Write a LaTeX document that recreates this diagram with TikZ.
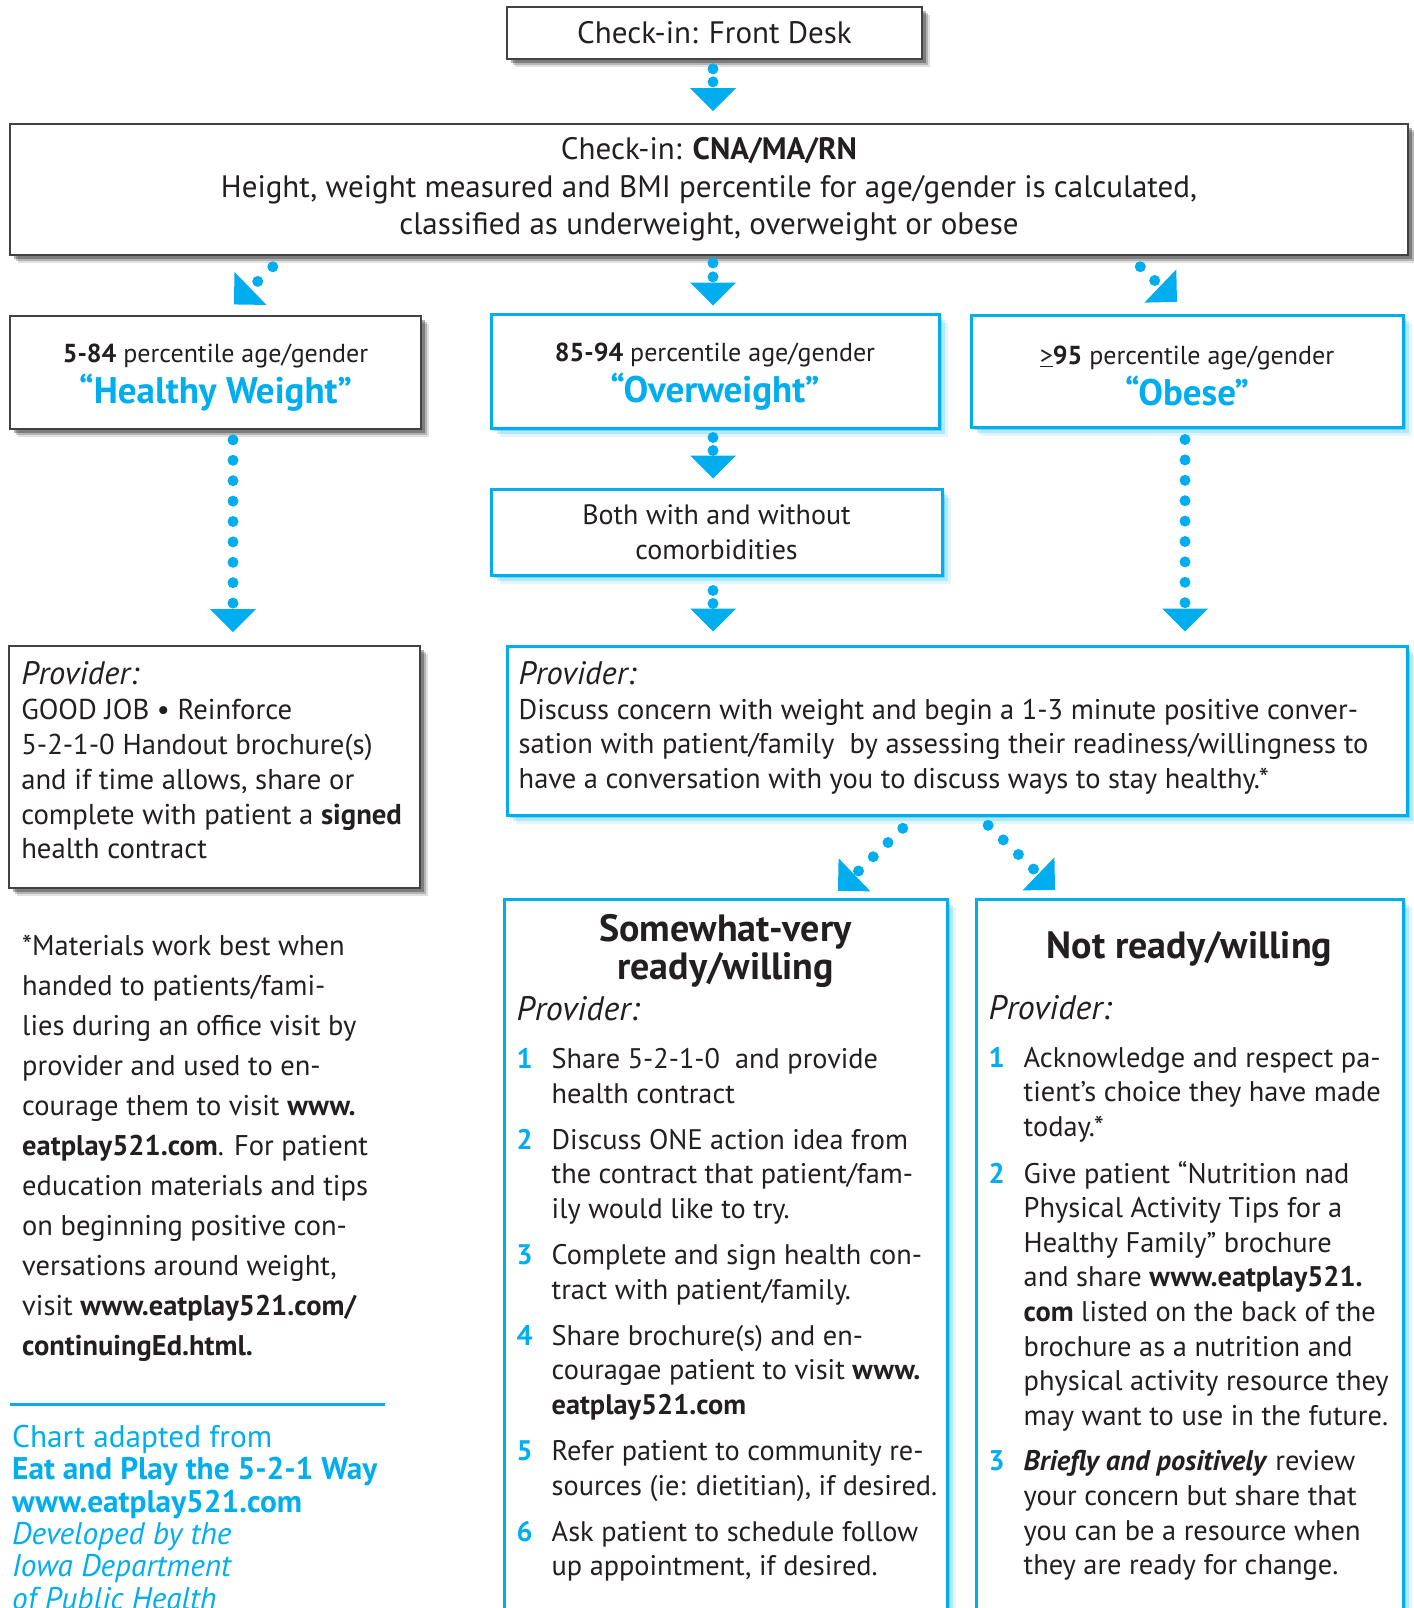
\documentclass[tikz,border=0pt]{standalone}
\usepackage{fontspec}
\setmainfont{PT Sans}
\usetikzlibrary{arrows.meta}
\usetikzlibrary{shadows}
\usetikzlibrary{positioning}
\definecolor{ebblue}{HTML}{00AEEF}
\definecolor{ink}{HTML}{231F20}
\tikzset{
    greybox/.style={
        rectangle,
        draw=ink!85,
        line width=1.8pt,
        fill=white,
        drop shadow={shadow xshift=8pt, shadow yshift=-8pt, opacity=.12, fill=black},
        drop shadow={shadow xshift=6pt, shadow yshift=-6pt, opacity=.2, fill=black},
        drop shadow={shadow xshift=4pt, shadow yshift=-4pt, opacity=.3, fill=black}
    },
    bluebox/.style={
        rectangle,
        draw=ebblue,
        line width=3pt,
        fill=white,
        drop shadow={shadow xshift=9pt, shadow yshift=-9pt, opacity=.12, fill=ebblue},
        drop shadow={shadow xshift=6pt, shadow yshift=-6pt, opacity=.2, fill=ebblue},
        drop shadow={shadow xshift=3pt, shadow yshift=-3pt, opacity=.35, fill=ebblue}
    },
    dotarrow/.style={
        draw=ebblue,
        line width=11pt,
        line cap=round,
        dash pattern=on 0pt off #1,
        -{Triangle[width=46pt,length=23pt,line width=0pt,sep=4pt]}
    },
    dotarrow/.default=13pt
}
\newcommand{\stepno}[1]{\makebox[35pt][l]{\textcolor{ebblue}{\bfseries #1}}}
\newcommand{\stepind}{\hspace*{35pt}}
\newcommand{\provhead}[1]{{\fontsize{#1}{35}\selectfont\textit{Provider:}}}
\newcommand{\bluehead}[1]{{\fontsize{37}{37}\selectfont\bfseries\color{ebblue}#1}}

\begin{document}
\begin{tikzpicture}[x=1pt, y=-1pt, every node/.style={text=ink, inner sep=0pt}]
        \useasboundingbox (0,0) rectangle (1413,1608);

        % Check-in boxes
        \node (front) [greybox, minimum width=415pt, minimum height=52pt, font=\fontsize{31}{37}\selectfont] at (714.5,33) {Check-in: Front Desk};
        \node (checkin) [greybox, minimum width=1398pt, minimum height=131pt, align=center, font=\fontsize{31}{37.5}\selectfont] at (709,189.5)
            {Check-in: \textbf{CNA/MA/RN}\\Height, weight measured and BMI percentile for age/gender is calculated,\\classified as underweight, overweight or obese};

        % Percentile boxes
        \node (healthy) [greybox, minimum width=411pt, minimum height=113pt, align=center, font=\fontsize{26}{37}\selectfont] at (215.5,372.5)
            {\rule{0pt}{29pt}\textbf{5-84} percentile age/gender\\[4pt]\bluehead{“Healthy Weight”}};
        \node (over) [bluebox, minimum width=448pt, minimum height=114pt, align=center, font=\fontsize{26}{37}\selectfont] at (715,371)
            {\rule{0pt}{29pt}\textbf{85-94} percentile age/gender\\[4pt]\bluehead{“Overweight”}};
        \node (obese) [bluebox, minimum width=432pt, minimum height=112pt, align=center, font=\fontsize{26}{37}\selectfont] at (1187,371)
            {\rule{0pt}{29pt}\underline{>}\textbf{95} percentile age/gender\\[4pt]\bluehead{“Obese”}};
        \node (both) [bluebox, minimum width=451pt, minimum height=86pt, align=center, font=\fontsize{28}{35}\selectfont] at (716.5,532)
            {Both with and without\\comorbidities};

        % Provider boxes
        \node (provL) [greybox, minimum width=411pt, minimum height=242pt] at (214.5,767) {};
        \node (provLtext) [below right=16.5pt and 13pt of provL.north west, align=left, font=\fontsize{28.7}{34.8}\selectfont]
            {\provhead{32.5}\\GOOD JOB • Reinforce\\5-2-1-0 Handout brochure(s)\\and if time allows, share or\\complete with patient a \textbf{signed}\\health contract};
        \node (provR) [bluebox, minimum width=900pt, minimum height=169pt] at (957,730.5) {};
        \node (provRtext) [below right=16.5pt and 13pt of provR.north west, align=left, font=\fontsize{28.5}{34.8}\selectfont]
            {\provhead{32.5}\\Discuss concern with weight and begin a 1-3 minute positive conver-\\sation with patient/family\ \ by assessing their readiness/willingness to\\have a conversation with you to discuss ways to stay healthy.*};

        % Readiness boxes
        \node (ready) [bluebox, minimum width=443pt, minimum height=761pt] at (725.5,1279.5) {};
        \node (readytitle) [below=17pt of ready.north, align=center, font=\fontsize{38}{38}\selectfont\bfseries]
            {Somewhat-very\\ready/willing};
        \node (readytext) [below right=99pt and 14pt of ready.north west, align=left, font=\fontsize{28.3}{34.8}\selectfont]
            {\provhead{34}\\[13pt]
             \stepno{1}Share 5-2-1-0\ \ and provide\\
             \stepind health contract\\[11pt]
             \stepno{2}Discuss ONE action idea from\\
             \stepind the contract that patient/fam-\\
             \stepind ily would like to try.\\[11pt]
             \stepno{3}Complete and sign health con-\\
             \stepind tract with patient/family.\\[11pt]
             \stepno{4}Share brochure(s) and en-\\
             \stepind couragae patient to visit \textbf{www.}\\
             \stepind \textbf{eatplay521.com}\\[11pt]
             \stepno{5}Refer patient to community re-\\
             \stepind sources (ie: dietitian), if desired.\\[11pt]
             \stepno{6}Ask patient to schedule follow\\
             \stepind up appointment, if desired.};
        \node (notready) [bluebox, minimum width=427pt, minimum height=761pt] at (1189.5,1279.5) {};
        \node (notreadytitle) [below=34pt of notready.north, font=\fontsize{38}{38}\selectfont\bfseries]
            {Not ready/willing};
        \node (notreadytext) [below right=98pt and 14pt of notready.north west, align=left, font=\fontsize{28.4}{34.6}\selectfont]
            {\provhead{34}\\[13pt]
             \stepno{1}Acknowledge and respect pa-\\
             \stepind tient’s choice they have made\\
             \stepind today.*\\[12pt]
             \stepno{2}Give patient “Nutrition nad\\
             \stepind Physical Activity Tips for a\\
             \stepind Healthy Family” brochure\\
             \stepind and share \textbf{www.eatplay521.}\\
             \stepind \textbf{com} listed on the back of the\\
             \stepind brochure as a nutrition and\\
             \stepind physical activity resource they\\
             \stepind may want to use in the future.\\[11pt]
             \stepno{3}\textbf{\textit{Briefly and positively}} review\\
             \stepind your concern but share that\\
             \stepind you can be a resource when\\
             \stepind they are ready for change.};

        % Footnote and credit
        \node (footnote) [anchor=north west, align=left, font=\fontsize{28.5}{40}\selectfont] at (22,934.5)
            {*Materials work best when\\handed to patients/fami-\\lies during an office visit by\\provider and used to en-\\courage them to visit \textbf{www.}\\\textbf{eatplay521.com}. For patient\\education materials and tips\\on beginning positive con-\\versations around weight,\\visit \textbf{www.eatplay521.com/}\\\textbf{continuingEd.html.}};
        \draw [ebblue, line width=3pt] (10,1404) -- (385,1404);
        \node (credit) [anchor=north west, align=left, text=ebblue, font=\fontsize{31.3}{32.3}\selectfont] at (12,1425)
            {Chart adapted from\\\textbf{Eat and Play the 5-2-1 Way}\\\textbf{www.eatplay521.com}\\\textit{Developed by the}\\\textit{Iowa Department}\\\textit{of Public Health}};

        % Arrows
        \draw [dotarrow=13pt, shorten <=9pt, shorten >=8pt] (713,0 |- front.south) -- (713,0 |- checkin.north);
        \draw [dotarrow=21pt, shorten <=15.6pt, shorten >=11.3pt] (284,0 |- checkin.south) -- (223,0 |- healthy.north);
        \draw [dotarrow=14pt, shorten <=7pt, shorten >=3pt] (713,0 |- checkin.south) -- (713,0 |- over.north);
        \draw [dotarrow=20pt, shorten <=15.6pt, shorten >=12.7pt] (1129,0 |- checkin.south) -- (1189,0 |- obese.north);
        \draw [dotarrow=20.4pt, shorten <=10pt, shorten >=9pt] (233,0 |- healthy.south) -- (233,0 |- provL.north);
        \draw [dotarrow=13pt, shorten <=8pt, shorten >=5pt] (713,0 |- over.south) -- (713,0 |- both.north);
        \draw [dotarrow=13pt, shorten <=14pt, shorten >=9pt] (713,0 |- both.south) -- (713,0 |- provR.north);
        \draw [dotarrow=20.4pt, shorten <=11pt, shorten >=9pt] (1185,0 |- obese.south) -- (1185,0 |- provR.north);
        \draw [dotarrow=20.5pt, shorten <=17pt, shorten >=5.7pt] (915,0 |- provR.south) -- (831,0 |- ready.north);
        \draw [dotarrow=21pt, shorten <=12.7pt, shorten >=7.1pt] (979,0 |- provR.south) -- (1063,0 |- notready.north);

\end{tikzpicture}
\end{document}
